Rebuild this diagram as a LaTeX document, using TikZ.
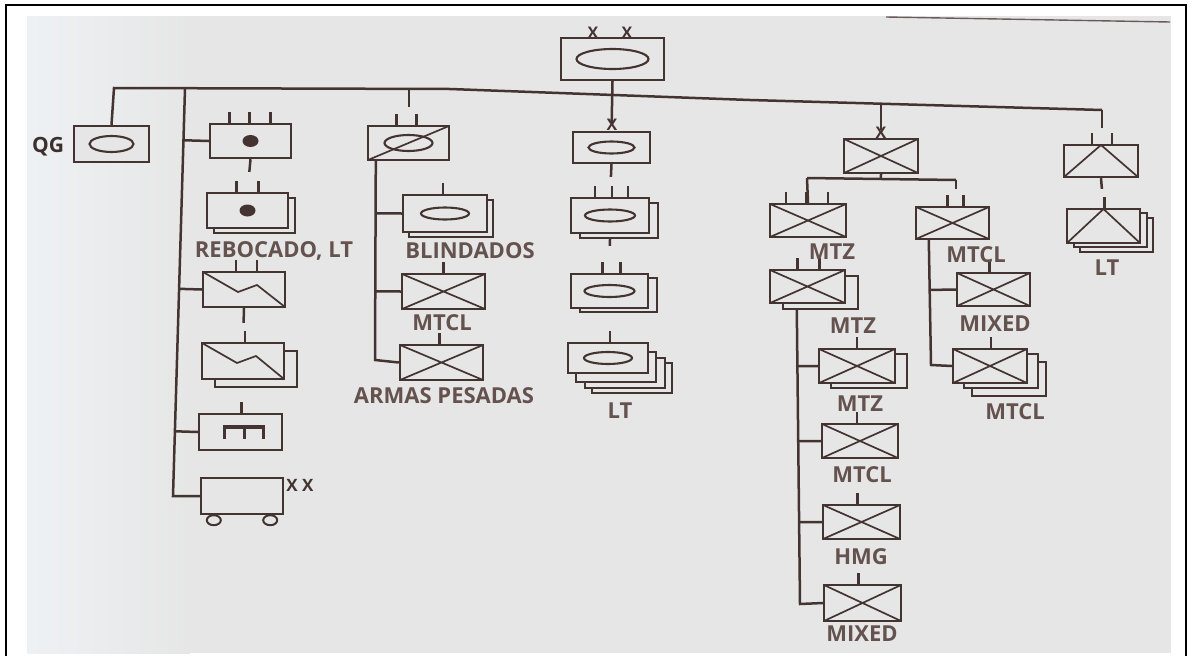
\documentclass[tikz,border=0pt]{standalone}
\usepackage{fontspec}
\setmainfont{Open Sans}
\usetikzlibrary{calc,shadows}
\definecolor{ink}{RGB}{68,52,49}
\definecolor{txt}{RGB}{100,82,78}
\definecolor{paper}{RGB}{230,230,230}
\definecolor{glow}{RGB}{238,241,244}
\begin{document}
\begin{tikzpicture}[x=1pt,y=-1pt,wire/.style={ink,line width=2.5pt},hair/.style={ink,line width=1.7pt},
unit/.style 2 args={draw=ink,line width=2.4pt,fill=paper,inner sep=0pt,minimum width=#1pt,minimum height=#2pt},
shd/.style 2 args={copy shadow={shadow xshift=#1pt,shadow yshift=-#2pt,draw=ink,fill=paper,line width=2.4pt}},
cross/.style={path picture={\draw[hair] (path picture bounding box.north west)--(path picture bounding box.south east) (path picture bounding box.south west)--(path picture bounding box.north east);}},
oval/.style 2 args={path picture={\draw[ink,line width=2.1pt] (path picture bounding box.center) ellipse[x radius=#1pt,y radius=#2pt];}},
ovalbar/.style={path picture={\draw[ink,line width=2.1pt] (path picture bounding box.center) ellipse[x radius=24pt,y radius=8pt];\draw[hair] (path picture bounding box.south west)--(path picture bounding box.north east);}},
dot/.style={path picture={\fill[ink] (path picture bounding box.center) ellipse[x radius=8pt,y radius=6pt];}},
zig/.style={path picture={\draw[hair] (path picture bounding box.north west)--++(35,20)--++(19,-7)--(path picture bounding box.south east);}},
tri/.style={path picture={\draw[hair] (path picture bounding box.south west)--(path picture bounding box.north)--(path picture bounding box.south east);}},
comb/.style={path picture={\draw[ink,line width=3.4pt] ($(path picture bounding box.center)+(-16,7)$)--++(0,-12)--++(39,0)--++(0,12) ($(path picture bounding box.center)+(4,-5)$)--++(0,12);}},
lbl/.style={text=txt,font=\bfseries\fontsize{22}{22}\selectfont,inner sep=0pt,text height=16pt,text depth=0pt},
xmk/.style={text=ink,font=\bfseries\fontsize{16}{16}\selectfont,inner sep=0pt}]
\useasboundingbox (0,0) rectangle (1192,656);
\fill[white] (0,0) rectangle (1192,656);
\fill[paper] (27,16) rectangle (1171,653);
\shade[left color=glow,right color=paper] (27,16) rectangle (190,653);
\draw[black,line width=2.5pt] (6,656)--(6,5)--(1186,5)--(1186,656);
\draw[ink!80,line width=1.4pt] (886,17)--(1170,22);
\node[unit={103}{42},oval={36}{10}] (hq) at (612.5,59) {};
\node[unit={75}{36},oval={22}{8}] (qg) at (111.5,144) {};
\node[font=\bfseries\fontsize{21}{21}\selectfont,text=ink!90!black,inner sep=0pt] (qgl) at (48,147) {QG};
\node[unit={81}{34},dot] (b1) at (250.5,141) {};
\node[unit={81}{35},dot,shd={7}{5}] (b2) at (247.5,210.5) {};
\node[unit={82}{35},zig] (b3) at (244,289.5) {};
\node[unit={82}{36},zig,shd={13}{8}] (b4) at (243,361) {};
\node[unit={83}{36},comb] (b5) at (240.5,432) {};
\node[unit={82}{36}] (b6) at (242,496) {};
\node[unit={81}{34},ovalbar] (a) at (408.5,143) {};
\node[unit={84}{37},oval={24}{6},shd={6}{5}] (b) at (445,213.5) {};
\node[unit={83}{35},cross] (c) at (443.5,291.5) {};
\node[unit={83}{35},cross] (d) at (441.5,362.5) {};
\node[unit={77}{31},oval={23}{6}] (e) at (611.5,147.5) {};
\node[unit={78}{35},oval={25}{6},shd={9}{5}] (f) at (610,215.5) {};
\node[unit={77}{34},oval={25}{6},shd={9}{4}] (g) at (609.5,291) {};
\node[unit={80}{30},oval={24}{6},shd={24}{20},shd={17}{15},shd={8}{9}] (h) at (608,358) {};
\node[unit={74}{34},cross] (i) at (881,156) {};
\node[unit={76}{33},cross] (j) at (808,220.5) {};
\node[unit={73}{32},cross] (k) at (952.5,223) {};
\node[unit={73}{33},cross] (l) at (993.5,289.5) {};
\node[unit={74}{34},cross,shd={19}{13},shd={11}{5}] (t) at (990,366) {};
\node[unit={74}{32},tri] (m) at (1101,161) {};
\node[unit={73}{34},tri,shd={13}{9},shd={7}{4}] (n) at (1103.5,226) {};
\node[unit={75}{33},cross,shd={13}{6}] (o) at (807.5,286.5) {};
\node[unit={76}{34},cross,shd={12}{5}] (p) at (857,366) {};
\node[unit={76}{34},cross] (q) at (860,441) {};
\node[unit={77}{34},cross] (r) at (861.5,522) {};
\node[unit={77}{36},cross] (s) at (862.5,603) {};
\draw[wire,fill=paper,line width=2pt] ($(b6.south west)+(14,5)$) ellipse[x radius=7pt,y radius=5pt] ($(b6.south east)+(-14,5)$) ellipse[x radius=7pt,y radius=5pt];
\coordinate (busL) at (114,88);\coordinate (busM) at (450,89);\coordinate (busN) at (750,100);\coordinate (busR) at (1102,110);
\coordinate (lvT) at (185,88.2);\coordinate (lvB) at (173,496);\coordinate (busA) at (409,88.9);\coordinate (busI) at (881,103.7);
\draw[wire] (qg.north)--(busL)--(busM)--(busN)--(busR);
\draw[wire,shorten >=16pt] (busR)--(busR|-m.north);
\draw[wire] (lvT)--(lvB)--(b6.west);
\foreach \n in {b1,b3,b5} \draw[wire] (\n.west)--($(lvT)!(\n.west)!(lvB)$);
\draw[wire,shorten >=20pt] (b1.south)--(b2.north);\draw[wire,shorten >=19pt] (b3.south)--(b4.north);
\draw[wire,shorten >=18pt] (busA)--(busA|-a.north);
\coordinate (avT) at ($(a.south west)+(9,0)$);\coordinate (avB) at (375,360);
\draw[wire] (avT)--(avB)--(d.west);
\foreach \n in {b,c} \draw[wire] (\n.west)--($(avT)!(\n.west)!(avB)$);
\draw[wire,shorten >=8pt] (hq.south)--(e.north);\draw[wire,shorten >=20pt] (e.south)--(f.north);\draw[wire,shorten >=27pt] (f.south) ++(0,5)--(g.north);
\draw[wire,shorten >=8pt] (busI)--(busI|-i.north);
\coordinate (hJ) at (807,178);\coordinate (hK) at (956,180);
\draw[wire] (i.south)--($(hJ)!(i.south)!(hK)$);\draw[wire] (hJ)--(hK);\draw[wire] (hJ)--(j.north);\draw[wire,shorten >=17pt] (hK)--(hK|-k.north);
\coordinate (kvT) at ($(k.south west)+(14,0)$);\coordinate (kvB) at (931,365);
\draw[wire] (kvT)--(kvB)--(t.west);\draw[wire] (l.west)--($(kvT)!(l.west)!(kvB)$);
\draw[wire,shorten >=19pt] (m.south)--(n.north);
\coordinate (ovT) at ($(o.south west)+(28,6)$);\coordinate (ovB) at (800,604);
\draw[wire] (ovT)--(ovB)--(s.west);
\foreach \n in {p,q,r} \draw[wire] (\n.west)--($(ovT)!(\n.west)!(ovB)$);
\foreach \n/\dx in {b1/-21,b1/-1,b1/20,b2/-11,b2/11,b3/-8,b3/13,b4/2,b5/1,a/-12,a/8,b/-2,c/0,d/-2,f/-15,f/2,f/18,g/-7,g/11,h/2,j/-22,j/-2,j/20,k/-5,k/11,l/-4,t/1,m/-9,m/11,n/1,o/-10,o/12,p/0,q/-3,r/-4,s/-4} \draw[wire] ($(\n.north)+(\dx,0)$)--++(0,-11);
\node[xmk] (hqx1) at (593,33) {X};\node[xmk] (hqx2) at (627,33) {X};\node[xmk] (ex) at (612,125) {X};\node[xmk] (ix) at (881,133) {X};
\node[xmk,font=\bfseries\fontsize{17}{17}\selectfont] (b6x) at (300,485) {X X};
\node[lbl] (rebo) at (274,249) {REBOCADO, LT};
\node[lbl] (blin) at (470,250) {BLINDADOS};
\node[lbl] (mtclc) at (442,322) {MTCL};
\node[lbl] (armas) at (444,395) {ARMAS PESADAS};
\node[lbl] (lth) at (620,410) {LT};
\node[lbl] (mtzj) at (832,251) {MTZ};
\node[lbl] (mtclk) at (976,254) {MTCL};
\node[lbl] (ltn) at (1107,267) {LT};
\node[lbl] (mtzo) at (853,325) {MTZ};
\node[lbl] (mixl) at (995,323) {MIXED};
\node[lbl] (mtzp) at (860,403) {MTZ};
\node[lbl] (mtclt) at (1015,411) {MTCL};
\node[lbl] (mtclq) at (862,474) {MTCL};
\node[lbl] (hmgr) at (861,556) {HMG};
\node[lbl] (mixs) at (862,633) {MIXED};
\end{tikzpicture}
\end{document}
